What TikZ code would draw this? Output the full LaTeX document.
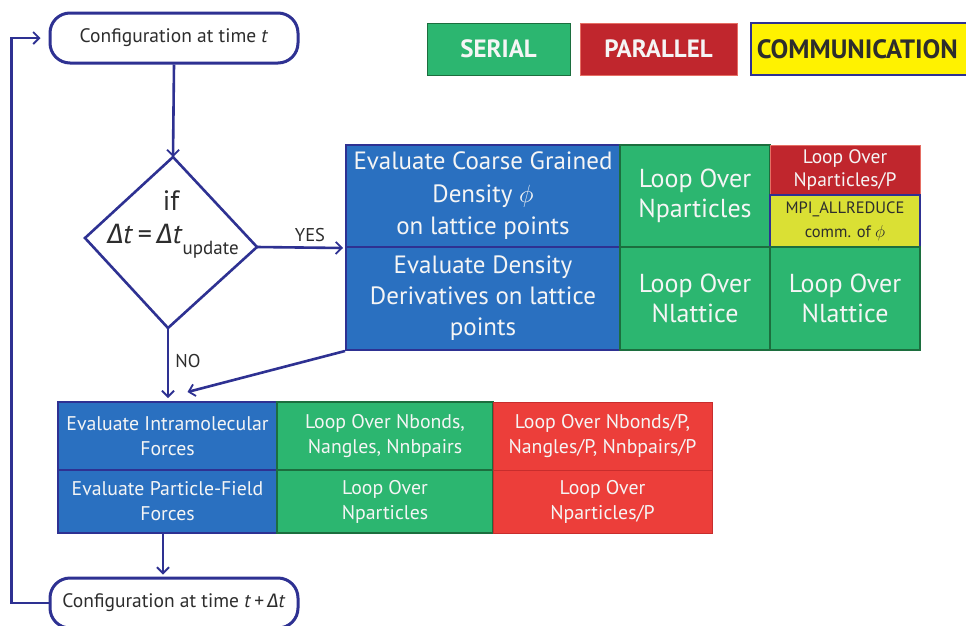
\documentclass[tikz,border=0pt]{standalone}
\usepackage{fontspec}
\setmainfont{PT Sans}
\newfontfamily\grkfont{Fira Sans}
\usetikzlibrary{arrows.meta}
\definecolor{navy}{RGB}{46,49,146}
\definecolor{cblue}{RGB}{42,112,192}
\definecolor{cgreen}{RGB}{44,182,112}
\definecolor{cgreenb}{RGB}{28,110,62}
\definecolor{cdred}{RGB}{192,38,45}
\definecolor{cdredb}{RGB}{230,110,100}
\definecolor{cred}{RGB}{236,62,58}
\definecolor{credb}{RGB}{200,45,45}
\definecolor{cyel}{RGB}{255,242,0}
\definecolor{cyelc}{RGB}{218,224,52}
\definecolor{ctext}{RGB}{45,45,45}
\definecolor{cwhite}{RGB}{245,245,245}
\newcommand{\fsz}[2]{\fontsize{#1}{#2}\selectfont}
\newcommand{\mydt}{{\grkfont\itshape Δ}\textit{t}}
\begin{document}
\begin{tikzpicture}[x=1pt,y=-1pt,
  conn/.style={draw=navy, line width=2.6pt},
  tip/.style={-{Straight Barb[length=6pt,width=12pt,line width=1.8pt]}},
  cfg/.style={draw=navy, line width=3pt, rounded corners=20pt, fill=white,
    minimum width=248pt, minimum height=50pt, inner sep=0pt, text=ctext,
    font=\fsz{19.5}{22}},
  sz/.style n args={2}{minimum width=#1pt, minimum height=#2pt},
  cell/.style={inner sep=0pt, align=center, text=cwhite},
  bluec/.style={cell, fill=cblue, draw=navy, line width=2pt},
  greenc/.style={cell, fill=cgreen, draw=cgreenb, line width=1.5pt},
  dredc/.style={cell, fill=cdred, draw=cdredb, line width=1pt},
  redc/.style={cell, fill=cred, draw=credb, line width=1pt},
  yelc/.style={cell, fill=cyelc, draw=navy, line width=2pt, text=ctext},
  legend/.style={inner sep=0pt, minimum height=52pt, font=\fsz{25}{27}\bfseries},
  lbl/.style={text=ctext, font=\fsz{18.5}{20}, inner sep=0pt}
]
\clip (0,0) rectangle (966,625);
\fill[white] (0,0) rectangle (966,625);

% legend
\node[legend, fill=cgreen, draw=cgreenb, line width=1pt, text=cwhite, minimum width=143pt] (lser) at (498.5,49) {SERIAL};
\node[legend, fill=cdred, draw=cdredb, line width=1pt, text=cwhite, minimum width=157pt] (lpar) at (658.5,49) {PARALLEL};
\node[legend, fill=cyel, draw=navy, line width=1.5pt, text=ctext, anchor=west,
  inner xsep=6pt, text width=228pt, align=left, font=\fsz{26.5}{28}\bfseries] (lcom) at (750,49) {COMMUNICATION};

% configuration boxes
\node[cfg] (topbox) at (174,38) {Configuration at time \textit{t}};
\node[cfg] (botbox) at (174,603) {Configuration at time \textit{t}\,+\,\mydt};

% decision diamond
\coordinate (dT) at (173,157);
\coordinate (dL) at (85,238);
\coordinate (dR) at (257,247);
\coordinate (dB) at (168,328);
\draw[conn, line join=miter] (dT) -- (dR) -- (dB) -- (dL) -- cycle;
\node[text=ctext, font=\fsz{28}{30}, inner sep=0pt] (dif) at (171,201) {if};
\node[text=ctext, font=\fsz{28}{30}, inner sep=0pt] (dcond) at (173,241)
  {\mydt\,=\,\mydt\raisebox{-0.4em}{\fsz{19}{19}update}};

% upper table
\node[bluec, sz={274}{102}, font=\fsz{25}{32.5}] (ub1) at (483,196)
  {Evaluate Coarse Grained\\ Density $\phi$\\ on lattice points};
\node[bluec, sz={274}{103}, font=\fsz{25}{31}] (ub2) at (483,298.5)
  {Evaluate Density\\ Derivatives on lattice\\ points};
\node[greenc, sz={150}{102}, font=\fsz{26}{30}] (ug1) at (695,196)
  {Loop Over\\ Nparticles};
\node[greenc, sz={150}{103}, font=\fsz{26}{30}] (ug2) at (695,298.5)
  {Loop Over\\ Nlattice};
\node[dredc, sz={150}{50}, font=\fsz{19.5}{22}] (ur) at (845,170)
  {Loop Over\\ Nparticles/P};
\node[yelc, sz={150}{52}, font=\fsz{16.5}{24}] (uy) at (845,221)
  {MPI\_ALLREDUCE\\ comm. of $\phi$};
\node[greenc, sz={150}{103}, font=\fsz{26}{30}] (ug3) at (845,298.5)
  {Loop Over\\ Nlattice};

% lower table
\node[bluec, sz={219}{68}, font=\fsz{19.8}{25}] (lb1) at (167.5,436)
  {Evaluate Intramolecular\\ Forces};
\node[bluec, sz={219}{63}, font=\fsz{19.8}{25}] (lb2) at (167.5,501.5)
  {Evaluate Particle-Field\\ Forces};
\node[greenc, sz={216}{68}, font=\fsz{19.8}{25}] (lg1) at (385,436)
  {Loop Over Nbonds,\\ Nangles, Nnbpairs};
\node[greenc, sz={216}{63}, font=\fsz{19.8}{25}] (lg2) at (385,501.5)
  {Loop Over\\ Nparticles};
\node[redc, sz={219}{68}, font=\fsz{19.8}{25}] (lr1) at (602.5,436)
  {Loop Over Nbonds/P,\\ Nangles/P, Nnbpairs/P};
\node[redc, sz={219}{63}, font=\fsz{19.8}{25}] (lr2) at (602.5,501.5)
  {Loop Over\\ Nparticles/P};

% connectors
\draw[conn, tip] (topbox.south) -- (dT);
\draw[conn, tip] (dR) -- ([xshift=-2pt]ub1.south west);
\node[lbl] (yes) at (310,235) {YES};
\draw[conn, tip] (dB) -- ([yshift=3pt]dB |- lb1.north);
\node[lbl] (no) at (188,361) {NO};
\draw[conn, tip] (ub2.south west) -- ([xshift=20pt,yshift=9pt]lb1.north);
\draw[conn, tip] ([xshift=-4.5pt]lb2.south) -- ([xshift=-4.5pt,yshift=2pt]lb2.south |- botbox.north);
\draw[conn, tip] (botbox.west) -- ++(-37,0) |- ([xshift=-8pt]topbox.west);
\end{tikzpicture}
\end{document}
